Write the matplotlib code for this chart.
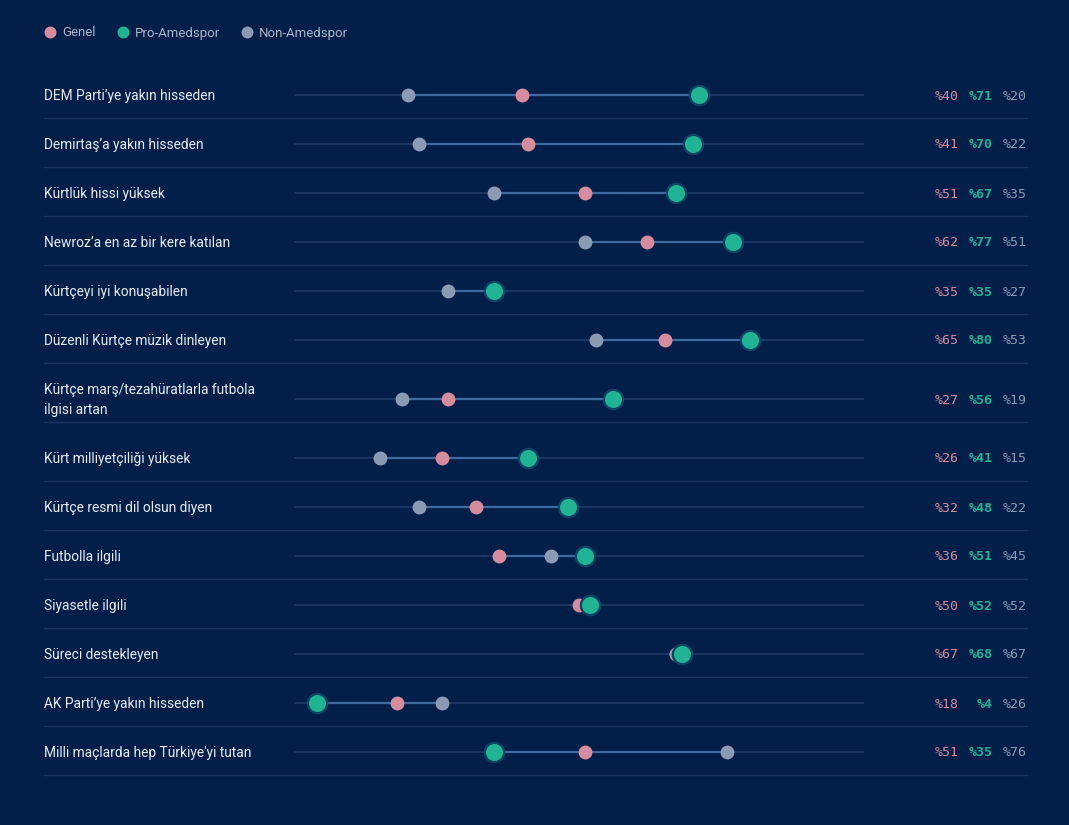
import matplotlib.pyplot as plt
from matplotlib.lines import Line2D
from matplotlib.transforms import blended_transform_factory

labels = [
    "DEM Parti’ye yakın hisseden",
    "Demirtaş’a yakın hisseden",
    "Kürtlük hissi yüksek",
    "Newroz’a en az bir kere katılan",
    "Kürtçeyi iyi konuşabilen",
    "Düzenli Kürtçe müzik dinleyen",
    "Kürtçe marş/tezahüratlarla futbola\nilgisi artan",
    "Kürt milliyetçiliği yüksek",
    "Kürtçe resmi dil olsun diyen",
    "Futbolla ilgili",
    "Siyasetle ilgili",
    "Süreci destekleyen",
    "AK Parti’ye yakın hisseden",
    "Milli maçlarda hep Türkiye'yi tutan",
]
genel = [40, 41, 51, 62, 35, 65, 27, 26, 32, 36, 50, 67, 18, 51]
pro = [71, 70, 67, 77, 35, 80, 56, 41, 48, 51, 52, 68, 4, 35]
non = [20, 22, 35, 51, 27, 53, 19, 15, 22, 45, 52, 67, 26, 76]

BG = '#021f4a'
C_GENEL = '#d68c9d'
C_PRO = '#20b394'
C_NON = '#8c9bb4'
C_HALO = '#0b4563'
C_TRACK = '#1c3763'
C_CONN = '#3f6a9f'
C_SEP = '#1a3561'
C_LABEL = '#e6ebf3'

W, H = 1069, 825
fig = plt.figure(figsize=(W / 100, H / 100), dpi=100, facecolor=BG)
ax = fig.add_axes([294 / W, 0, 570 / W, 1])
ax.set_facecolor(BG)
ax.set_xlim(0, 100)
ax.set_ylim(H, 0)
ax.axis('off')
tr = blended_transform_factory(fig.transFigure, ax.transData)

# row layout in pixels from the top
heights = [49] * 6 + [69] + [49] * 7
centers = []
top = 70.5
for h in heights:
    centers.append(top + h / 2)
    top += h

for i, y in enumerate(centers):
    lo = min(genel[i], pro[i], non[i])
    hi = max(genel[i], pro[i], non[i])
    ax.hlines(y, 0, 100, color=C_TRACK, lw=1.4, zorder=1)
    ax.hlines(y, lo, hi, color=C_CONN, lw=1.6, zorder=2)
    ax.plot([44 / W, 1027 / W], [y + 22.5, y + 22.5], color=C_SEP, lw=1.0,
            transform=tr, clip_on=False, zorder=1)
    lines = labels[i].split('\n')
    for k, line in enumerate(lines):
        base = y + 5 - (len(lines) - 1) * 10 + k * 20
        ax.text(44 / W, base, line, transform=tr, color=C_LABEL, fontsize=9.9,
                family='Roboto', va='baseline', ha='left')
    ax.text(959 / W, y + 4.5, f"%{genel[i]}", transform=tr, color=C_GENEL,
            fontsize=9.5, family='DejaVu Sans Mono', va='baseline', ha='right')
    ax.text(993 / W, y + 4.5, f"%{pro[i]}", transform=tr, color=C_PRO,
            fontsize=9.5, family='DejaVu Sans Mono', weight='bold',
            va='baseline', ha='right')
    ax.text(1027 / W, y + 4.5, f"%{non[i]}", transform=tr, color=C_NON,
            fontsize=9.5, family='DejaVu Sans Mono', va='baseline', ha='right')

ax.scatter(genel, centers, s=100, color=C_GENEL, lw=0, zorder=3)
ax.scatter(non, centers, s=100, color=C_NON, lw=0, zorder=4)
ax.scatter(pro, centers, s=240, color=C_HALO, lw=0, zorder=5)
ax.scatter(pro, centers, s=150, color=C_PRO, lw=0, zorder=6)

handles = [
    Line2D([], [], marker='o', ls='', ms=8.6, mew=0, color=C_GENEL, label='Genel'),
    Line2D([], [], marker='o', ls='', ms=8.6, mew=0, color=C_PRO, label='Pro-Amedspor'),
    Line2D([], [], marker='o', ls='', ms=8.6, mew=0, color=C_NON, label='Non-Amedspor'),
]
leg = fig.legend(handles=handles, loc='center left', bbox_to_anchor=(32 / W, 1 - 33 / H),
                 ncol=3, frameon=False, handlelength=1.0, handletextpad=0.4,
                 columnspacing=1.55, prop={'family': 'Roboto', 'size': 9.5})
for t in leg.get_texts():
    t.set_color('#a9b5c9')

fig.savefig('out.png', dpi=100, facecolor=BG)
